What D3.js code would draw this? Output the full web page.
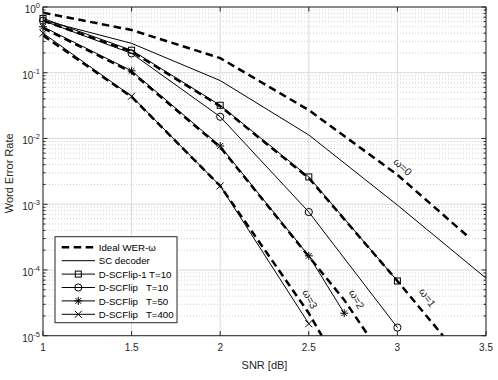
<!DOCTYPE html>
<html>
<head>
<meta charset="utf-8">
<script src="https://cdn.jsdelivr.net/npm/d3@7"></script>
<style>
  body { margin: 0; background: #fff; }
  svg { display: block; font-family: "Liberation Sans", Arial, Helvetica, sans-serif; }
</style>
</head>
<body>
<div id="chart"></div>
<script>
// ---- data ---------------------------------------------
const snrTicks = [1, 1.5, 2, 2.5, 3, 3.5];
const werDecades = [-5, -4, -3, -2, -1, 0];

// ideal WER-omega curves (dashed)
const ideal0Snr = [1, 1.5, 2, 2.5, 3, 3.4];
const ideal0Wer = [0.82, 0.447, 0.167, 0.027, 2.8e-3, 3.2e-4];
const ideal1Snr = [1, 1.5, 2, 2.5, 3, 3.257];
const ideal1Wer = [0.62, 0.21, 0.031, 2.5e-3, 6.8e-5, 1e-5];
const ideal2Snr = [1, 1.5, 2, 2.5, 2.7, 2.836];
const ideal2Wer = [0.48, 0.102, 7.4e-3, 1.6e-4, 3.5e-5, 1e-5];
const ideal3Snr = [1, 1.5, 2, 2.5, 2.573];
const ideal3Wer = [0.37, 0.043, 1.9e-3, 2.2e-5, 1e-5];

// simulated decoders
const scSnr = [1, 1.5, 2, 2.5, 3, 3.5];
const scWer = [0.63, 0.28, 0.076, 0.0113, 9.7e-4, 7.5e-5];
const flip1T10Snr = [1, 1.5, 2, 2.5, 3];
const flip1T10Wer = [0.67, 0.22, 0.032, 2.6e-3, 6.8e-5];
const flipT10Snr = [1, 1.5, 2, 2.5, 3];
const flipT10Wer = [0.62, 0.197, 0.0214, 7.6e-4, 1.33e-5];
const flipT50Snr = [1, 1.5, 2, 2.5, 2.7];
const flipT50Wer = [0.5, 0.107, 7.7e-3, 1.64e-4, 2.2e-5];
const flipT400Snr = [1, 1.5, 2, 2.5];
const flipT400Wer = [0.4, 0.044, 1.9e-3, 1.52e-5];

const legendLabels = ["Ideal WER-\u03c9", "SC decoder", "D-SCFlip-1 T=10",
  "D-SCFlip   T=10", "D-SCFlip   T=50", "D-SCFlip   T=400"];
const omegaLabels = ["\u03c9=0", "\u03c9=1", "\u03c9=2", "\u03c9=3"];
const omegaLabelSnr = [3.03, 3.17, 2.77, 2.507];
const omegaLabelWer = [3.7e-3, 3.8e-5, 3.6e-5, 3.6e-5];
const omegaLabelAngle = [42, 54, 60, 62];

// ---- layout -------------------------------------------
const WIDTH = 498, HEIGHT = 380;
const MARGINS = { top: 7, right: 12, bottom: 44.3, left: 43 };
const plotW = WIDTH - MARGINS.left - MARGINS.right;
const plotH = HEIGHT - MARGINS.top - MARGINS.bottom;

const svg = d3.select("#chart").append("svg")
  .attr("width", WIDTH).attr("height", HEIGHT)
  .attr("xmlns", "http://www.w3.org/2000/svg");

svg.append("rect").attr("width", WIDTH).attr("height", HEIGHT).attr("fill", "#fff");

const g = svg.append("g").attr("transform", `translate(${MARGINS.left},${MARGINS.top})`);

const xScale = d3.scaleLinear().domain([1, 3.5]).range([0, plotW]);
const yScale = d3.scaleLog().domain([1e-5, 1]).range([plotH, 0]);

// ---- grid ---------------------------------------------
const minorVals = [];
werDecades.slice(0, -1).forEach(e => {
  for (let m = 2; m <= 9; m++) minorVals.push(m * Math.pow(10, e));
});

const grid = g.append("g").classed("grid", true);
grid.selectAll(".minor").data(minorVals).join("line")
  .attr("x1", 0).attr("x2", plotW)
  .attr("y1", d => yScale(d)).attr("y2", d => yScale(d))
  .attr("stroke", "#c4c4c4").attr("stroke-width", 0.8)
  .attr("stroke-dasharray", "1,2");
grid.selectAll(".majy").data(werDecades).join("line")
  .attr("x1", 0).attr("x2", plotW)
  .attr("y1", d => yScale(Math.pow(10, d))).attr("y2", d => yScale(Math.pow(10, d)))
  .attr("stroke", "#dadada").attr("stroke-width", 1);
grid.selectAll(".majx").data(snrTicks).join("line")
  .attr("x1", d => xScale(d)).attr("x2", d => xScale(d))
  .attr("y1", 0).attr("y2", plotH)
  .attr("stroke", "#dadada").attr("stroke-width", 1);

// ---- curves -------------------------------------------
svg.append("defs").append("clipPath").attr("id", "plotclip")
  .append("rect").attr("width", plotW).attr("height", plotH + 1);

const curves = g.append("g").attr("clip-path", "url(#plotclip)");

function lineFor(snr, wer) {
  return d3.line()
    .x((d, i) => xScale(snr[i]))
    .y((d, i) => yScale(wer[i]))(wer);
}

const idealSeries = [
  [ideal0Snr, ideal0Wer], [ideal1Snr, ideal1Wer],
  [ideal2Snr, ideal2Wer], [ideal3Snr, ideal3Wer]
];
idealSeries.forEach(([s, w]) => {
  curves.append("path")
    .attr("d", lineFor(s, w))
    .attr("fill", "none").attr("stroke", "#000")
    .attr("stroke-width", 2.5).attr("stroke-dasharray", "7.5,4.5");
});

curves.append("path")
  .attr("d", lineFor(scSnr, scWer))
  .attr("fill", "none").attr("stroke", "#000").attr("stroke-width", 1);

// marker painters
const markers = {
  square: (sel) => sel.append("rect").attr("x", -3).attr("y", -3)
    .attr("width", 6).attr("height", 6),
  circle: (sel) => sel.append("circle").attr("r", 3.6),
  star: (sel) => sel.append("path")
    .attr("d", "M-4,0H4M0,-4V4M-2.9,-2.9L2.9,2.9M-2.9,2.9L2.9,-2.9"),
  cross: (sel) => sel.append("path").attr("d", "M-3.5,-3.5L3.5,3.5M-3.5,3.5L3.5,-3.5")
};

const flipSeries = [
  [flip1T10Snr, flip1T10Wer, "square"],
  [flipT10Snr, flipT10Wer, "circle"],
  [flipT50Snr, flipT50Wer, "star"],
  [flipT400Snr, flipT400Wer, "cross"]
];
flipSeries.forEach(([s, w, m]) => {
  curves.append("path")
    .attr("d", lineFor(s, w))
    .attr("fill", "none").attr("stroke", "#000").attr("stroke-width", 1);
  const pts = g.append("g").selectAll("g").data(w).join("g")
    .attr("transform", (d, i) => `translate(${xScale(s[i])},${yScale(d)})`)
    .attr("fill", "none").attr("stroke", "#000").attr("stroke-width", 1);
  markers[m](pts);
});

// omega labels along curves
g.selectAll(".omega").data(omegaLabels).join("text")
  .attr("transform", (d, i) =>
    `translate(${xScale(omegaLabelSnr[i])},${yScale(omegaLabelWer[i])}) rotate(${omegaLabelAngle[i]})`)
  .attr("text-anchor", "middle").attr("dy", "0.35em")
  .attr("font-size", 10.5).attr("fill", "#222")
  .text(d => d);

// ---- axes box + ticks ---------------------------------
g.append("rect").attr("width", plotW).attr("height", plotH)
  .attr("fill", "none").attr("stroke", "#262626").attr("stroke-width", 1);

const ticks = g.append("g").attr("stroke", "#262626").attr("stroke-width", 1);
snrTicks.forEach(t => {
  ticks.append("line").attr("x1", xScale(t)).attr("x2", xScale(t)).attr("y1", plotH).attr("y2", plotH - 4.5);
  ticks.append("line").attr("x1", xScale(t)).attr("x2", xScale(t)).attr("y1", 0).attr("y2", 4.5);
});
werDecades.forEach(e => {
  const y = yScale(Math.pow(10, e));
  ticks.append("line").attr("x1", 0).attr("x2", 4.5).attr("y1", y).attr("y2", y);
  ticks.append("line").attr("x1", plotW).attr("x2", plotW - 4.5).attr("y1", y).attr("y2", y);
});
minorVals.forEach(v => {
  const y = yScale(v);
  ticks.append("line").attr("x1", 0).attr("x2", 2.5).attr("y1", y).attr("y2", y);
  ticks.append("line").attr("x1", plotW).attr("x2", plotW - 2.5).attr("y1", y).attr("y2", y);
});

// tick labels
g.selectAll(".xt").data(snrTicks).join("text")
  .attr("x", d => xScale(d)).attr("y", plotH + 15.5)
  .attr("text-anchor", "middle").attr("font-size", 10).attr("fill", "#262626")
  .text(d => d);

const yt = g.selectAll(".yt").data(werDecades).join("text")
  .attr("x", -3).attr("y", d => yScale(Math.pow(10, d)) + 6)
  .attr("text-anchor", "end").attr("font-size", 10).attr("fill", "#262626");
yt.append("tspan").text("10");
yt.append("tspan").attr("dy", -5).attr("font-size", 7.5)
  .text(d => d === 0 ? "0" : "-" + Math.abs(d));

// axis labels
svg.append("text")
  .attr("x", MARGINS.left + plotW / 2).attr("y", 369)
  .attr("text-anchor", "middle").attr("font-size", 11).attr("fill", "#262626")
  .text("SNR [dB]");
svg.append("text")
  .attr("transform", `translate(12.5,${MARGINS.top + plotH / 2 + 2}) rotate(-90)`)
  .attr("text-anchor", "middle").attr("font-size", 11).attr("fill", "#262626")
  .text("Word Error Rate");

// ---- legend -------------------------------------------
const legend = svg.append("g").attr("transform", "translate(55,236.7)");
legend.append("rect").attr("width", 122).attr("height", 86)
  .attr("fill", "#fff").attr("stroke", "#262626").attr("stroke-width", 1);

const legendStyles = ["dash", "solid", "square", "circle", "star", "cross"];
legendLabels.forEach((lab, i) => {
  const y = 10.6 + i * 13.4;
  const row = legend.append("g").attr("transform", `translate(0,${y})`);
  const ln = row.append("line").attr("x1", 6.7).attr("x2", 40).attr("y1", 0).attr("y2", 0)
    .attr("stroke", "#000");
  if (legendStyles[i] === "dash") {
    ln.attr("stroke-width", 2.5).attr("stroke-dasharray", "7.5,4.5");
  } else {
    ln.attr("stroke-width", 1);
  }
  if (markers[legendStyles[i]]) {
    const mg = row.append("g").attr("transform", "translate(23.3,0)")
      .attr("fill", "none").attr("stroke", "#000").attr("stroke-width", 1);
    markers[legendStyles[i]](mg);
  }
  row.append("text").attr("x", 43.7).attr("y", 3.6)
    .attr("font-size", 9.7).attr("fill", "#000")
    .attr("xml:space", "preserve").style("white-space", "pre")
    .text(lab);
});
</script>
</body>
</html>
